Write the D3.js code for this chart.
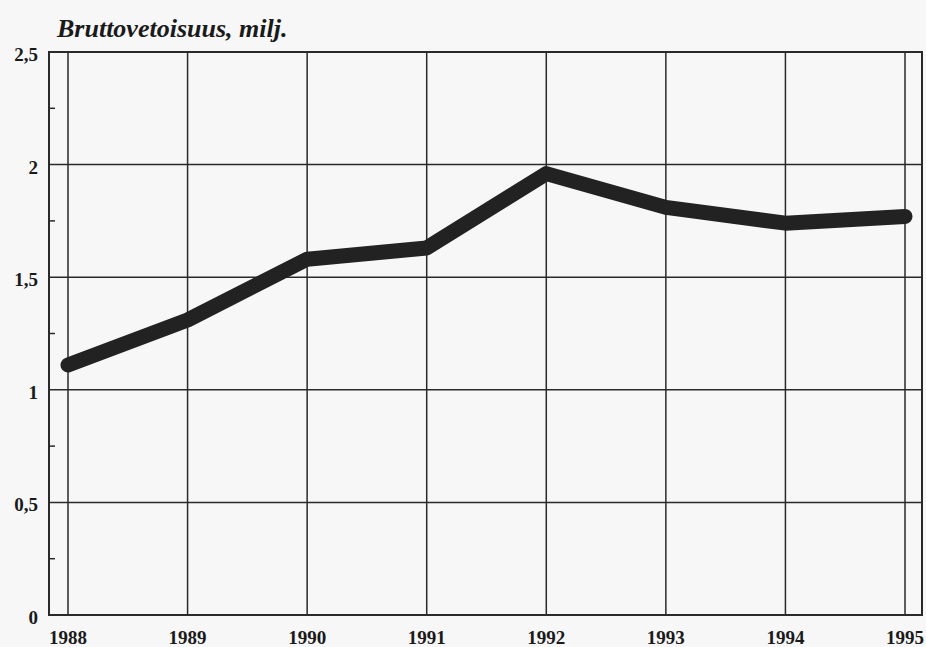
<!DOCTYPE html>
<meta charset="utf-8">
<script src="https://d3js.org/d3.v7.min.js"></script>
<style>
  body { margin: 0; background: #f7f7f7; }
  text { font-family: "Liberation Serif", "DejaVu Serif", serif; font-weight: bold; fill: #1a1a1a; }
</style>
<div id="chart"></div>
<script>
  // data
  var years = [1988, 1989, 1990, 1991, 1992, 1993, 1994, 1995]
  var values = [1.11, 1.31, 1.58, 1.63, 1.96, 1.81, 1.74, 1.77]
  var yTicks = [0, 0.5, 1, 1.5, 2, 2.5]
  var yMinor = [0.25, 0.75, 1.25, 1.75, 2.25]
  var title = "Bruttovetoisuus, milj."

  var W = 926, H = 647
  var frame = {left: 49, right: 922, top: 52, bottom: 615}

  var svg = d3.select("#chart").append("svg")
      .attr("width", W).attr("height", H)

  var x = d3.scaleLinear().domain([1988, 1995]).range([68, 905])
  var y = d3.scaleLinear().domain([0, 2.5]).range([frame.bottom, frame.top])

  // horizontal grid
  svg.append("g").selectAll("line").data(yTicks).enter().append("line")
      .attr("x1", frame.left).attr("x2", frame.right)
      .attr("y1", d => y(d)).attr("y2", d => y(d))
      .attr("stroke", "#2a2a2a").attr("stroke-width", 1.5)

  // vertical grid at each year
  svg.append("g").selectAll("line").data(years).enter().append("line")
      .attr("x1", d => x(d)).attr("x2", d => x(d))
      .attr("y1", frame.top).attr("y2", frame.bottom)
      .attr("stroke", "#2a2a2a").attr("stroke-width", 1.5)

  // minor ticks on the left edge
  svg.append("g").selectAll("line").data(yMinor).enter().append("line")
      .attr("x1", frame.left).attr("x2", frame.left + 6)
      .attr("y1", d => y(d)).attr("y2", d => y(d))
      .attr("stroke", "#2a2a2a").attr("stroke-width", 1.5)

  // frame
  svg.append("rect")
      .attr("x", frame.left).attr("y", frame.top)
      .attr("width", frame.right - frame.left).attr("height", frame.bottom - frame.top)
      .attr("fill", "none").attr("stroke", "#2a2a2a").attr("stroke-width", 2)

  // y labels
  var fmt = d => String(d).replace(".", ",")
  svg.append("g").selectAll("text").data(yTicks).enter().append("text")
      .attr("x", 38).attr("y", d => y(d) + 9)
      .attr("text-anchor", "end").style("font-size", "19px")
      .text(fmt)

  // x labels
  svg.append("g").selectAll("text").data(years).enter().append("text")
      .attr("x", d => x(d)).attr("y", 644)
      .attr("text-anchor", "middle").style("font-size", "19px")
      .text(d => d)

  // the line
  var line = d3.line()
      .x((d, i) => x(years[i]))
      .y(d => y(d))
  svg.append("path").datum(values)
      .attr("d", line)
      .attr("fill", "none").attr("stroke", "#222")
      .attr("stroke-width", 15)
      .attr("stroke-linecap", "round").attr("stroke-linejoin", "round")

  // title
  svg.append("text")
      .attr("x", 57).attr("y", 37)
      .style("font-size", "26px").style("font-style", "italic")
      .text(title)
</script>
